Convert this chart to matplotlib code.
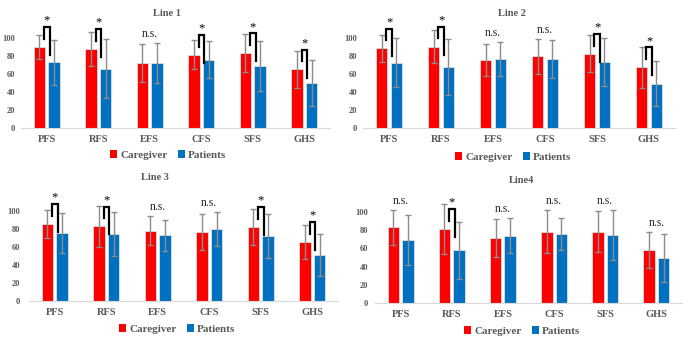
import numpy as np
import matplotlib
matplotlib.use("Agg")
import matplotlib.pyplot as plt
from matplotlib.patches import Patch

plt.rcParams['font.family'] = ['Liberation Serif', 'DejaVu Serif']

# Data (mean, SD per domain)
categories = ["PFS", "RFS", "EFS", "CFS", "SFS", "GHS"]
titles = ["Line 1", "Line 2", "Line 3", "Line4"]

cg_mean_1 = [90, 88, 72, 81.5, 83, 65]
cg_sd_1 = [13, 19, 21, 16.5, 21, 21]
pt_mean_1 = [73, 66, 72.5, 76, 69, 50]
pt_sd_1 = [25, 33, 22, 21, 28, 26]
sig_1 = ["*", "*", "n.s.", "*", "*", "*"]

cg_mean_2 = [88.5, 90.5, 75.5, 79.5, 82.5, 67.5]
cg_sd_2 = [15, 18.5, 17.5, 19, 20.5, 23]
pt_mean_2 = [72.5, 68, 76.5, 77, 73.5, 49]
pt_sd_2 = [27.5, 31, 19, 21, 27, 25]
sig_2 = ["*", "*", "n.s.", "n.s.", "*", "*"]

cg_mean_3 = [85.5, 83, 78, 77, 82.5, 66]
cg_sd_3 = [16, 23, 16, 20, 20, 19]
pt_mean_3 = [75.5, 74.5, 73, 80, 72.5, 51.5]
pt_sd_3 = [22, 24.5, 17, 19, 24.5, 23.5]
sig_3 = ["*", "*", "n.s.", "n.s.", "*", "*"]

cg_mean_4 = [83, 81, 71.5, 78.5, 78.5, 58]
cg_sd_4 = [19, 27.5, 20.5, 24, 23, 20]
pt_mean_4 = [69, 58, 74, 75.5, 74.5, 49.5]
pt_sd_4 = [27.5, 31.5, 19, 17.5, 27.5, 26.5]
sig_4 = ["n.s.", "*", "n.s.", "n.s.", "n.s.", "n.s."]

panels = [
    (cg_mean_1, cg_sd_1, pt_mean_1, pt_sd_1, sig_1),
    (cg_mean_2, cg_sd_2, pt_mean_2, pt_sd_2, sig_2),
    (cg_mean_3, cg_sd_3, pt_mean_3, pt_sd_3, sig_3),
    (cg_mean_4, cg_sd_4, pt_mean_4, pt_sd_4, sig_4),
]

RED = "#ff0000"
BLUE = "#0070c0"
GRAY = "#595959"

W, H = 685, 338
# axes boxes in pixels: left, y of zero line, width, px per 100 units
boxes = [(21, 128, 309, 90), (363, 128, 312, 90), (29, 301, 309, 90), (375, 303, 307, 91)]
title_pos = [(167, 14), (512, 14), (155, 178), (522, 180)]
legend_pos = [(168, 155), (513, 157), (177, 329), (522, 331)]
ytick_pad = [6, 6, 9, 7]

fig = plt.figure(figsize=(W / 100, H / 100), dpi=100)

for i, (cg_m, cg_s, pt_m, pt_s, sig) in enumerate(panels):
    left, y0, width, scale = boxes[i]
    ymax = 120
    hpx = scale * ymax / 100
    ax = fig.add_axes([left / W, 1 - y0 / H, width / W, hpx / H])
    x = np.arange(len(categories))
    bw = 0.225
    off = 0.143
    err_kw = dict(ecolor="#8c8c8c", elinewidth=1, capsize=2.5, capthick=1)
    ax.bar(x - off, cg_m, bw, yerr=cg_s, color=RED, edgecolor="#e0e0e0",
           linewidth=0.6, error_kw=err_kw, label="Caregiver")
    ax.bar(x + off, pt_m, bw, yerr=pt_s, color=BLUE, edgecolor="#e0e0e0",
           linewidth=0.6, error_kw=err_kw, label="Patients")

    for j, s in enumerate(sig):
        if s == "*":
            top = cg_m[j] + 22
            xl = x[j] - off + 0.09
            xr = x[j] + off - 0.08
            ax.plot([xl, xl, xr, xr], [top - 13, top, top, top - 31],
                    color="black", lw=1.6, solid_joinstyle="miter", clip_on=False)
            ax.text((xl + xr) / 2, top + 0.5, "*", ha="center", va="bottom",
                    fontsize=9, color="black", clip_on=False)
        else:
            hi = max(cg_m[j] + cg_s[j], pt_m[j] + pt_s[j])
            ax.text(x[j], hi + 10, "n.s.", ha="center", va="center",
                    fontsize=8.5, color="#262626", clip_on=False)

    ax.set_xlim(-0.5, len(categories) - 0.5)
    ax.set_ylim(0, ymax)
    ax.set_yticks([0, 20, 40, 60, 80, 100])
    ax.set_xticks(x)
    ax.set_xticklabels(categories, fontsize=7.5, fontweight="bold", color=GRAY)
    for lab in ax.get_yticklabels():
        lab.set_fontsize(6)
        lab.set_fontweight("bold")
        lab.set_color(GRAY)
    ax.tick_params(axis="both", length=0)
    ax.tick_params(axis="x", pad=5)
    ax.tick_params(axis="y", pad=ytick_pad[i] * 0.72)
    for sp in ["top", "right", "left"]:
        ax.spines[sp].set_visible(False)
    ax.spines["bottom"].set_color("#d9d9d9")
    ax.spines["bottom"].set_linewidth(0.8)
    ax.patch.set_alpha(0)

    tx, ty = title_pos[i]
    fig.text(tx / W, 1 - ty / H, titles[i], ha="center", va="center",
             fontsize=7.5, fontweight="bold", color=GRAY)

    lx, ly = legend_pos[i]
    handles = [Patch(facecolor=RED, edgecolor="none", label="Caregiver"),
               Patch(facecolor=BLUE, edgecolor="none", label="Patients")]
    fig.legend(handles=handles, loc="center", bbox_to_anchor=(lx / W, 1 - ly / H),
               ncol=2, frameon=False, handlelength=0.7, handleheight=0.7,
               handletextpad=0.25, columnspacing=0.9, borderpad=0,
               prop={"size": 8, "weight": "bold"}, labelcolor=GRAY)

fig.savefig("out.png", dpi=100)
